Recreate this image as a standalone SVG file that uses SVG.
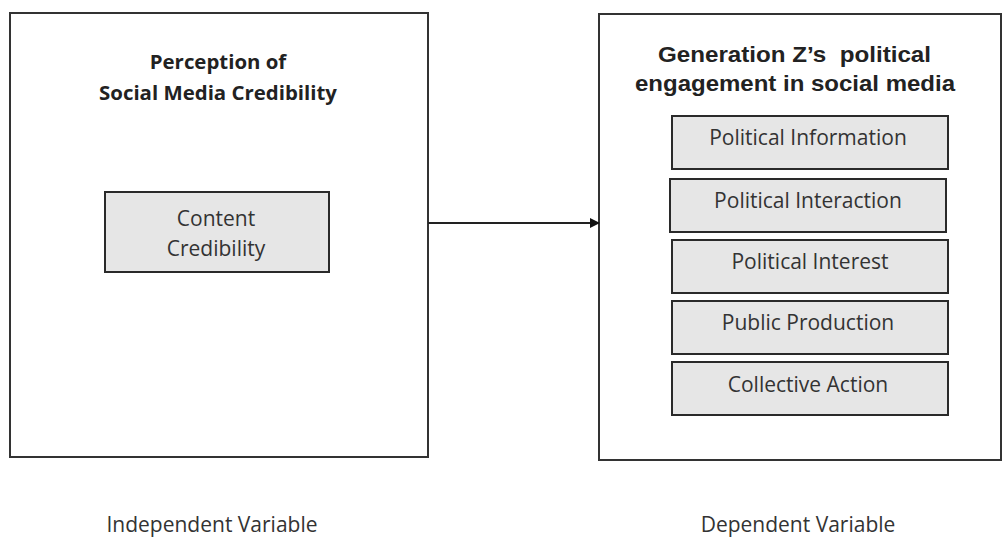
<svg xmlns="http://www.w3.org/2000/svg" width="1004" height="538" viewBox="0 0 1004 538">
<defs>
<style>
.outer{fill:#fff;stroke:#333;stroke-width:2}
.inner{fill:#e6e6e6;stroke:#2a2a2a;stroke-width:2}
.t{font-family:"Open Sans","Noto Sans",sans-serif;font-size:21px;fill:#333;text-anchor:middle}
.tb{font-family:"Open Sans","Noto Sans",sans-serif;font-size:20.4px;font-weight:bold;fill:#222;text-anchor:middle}
.ta{font-family:"Liberation Sans",Arial,sans-serif;font-size:22.5px;font-weight:bold;fill:#222;text-anchor:middle;white-space:pre}
.conn{stroke:#222;stroke-width:2;fill:none}
</style>
<marker id="arr" markerWidth="10" markerHeight="10" refX="9" refY="5" orient="auto" markerUnits="userSpaceOnUse">
<path d="M0,0 L10,5 L0,10 Z" fill="#111"/>
</marker>
</defs>
<rect width="1004" height="538" fill="#fff"/>
<g id="independent">
<rect class="outer" x="10" y="13" width="418" height="444"/>
<text class="tb" x="218" y="69">Perception of</text>
<text class="tb" x="218" y="100">Social Media Credibility</text>
</g>
<g id="content-credibility">
<rect class="inner" x="105" y="192" width="224" height="80"/>
<text class="t" x="216" y="226">Content</text>
<text class="t" x="216" y="256">Credibility</text>
</g>
<g id="dependent">
<rect class="outer" x="599" y="14" width="402" height="446"/>
<text class="ta" x="794.5" y="62" textLength="273" lengthAdjust="spacingAndGlyphs">Generation Z’s  political</text>
<text class="ta" x="795" y="91" textLength="320" lengthAdjust="spacingAndGlyphs">engagement in social media</text>
</g>
<g id="political-information">
<rect class="inner" x="672" y="116" width="276" height="53"/>
<text class="t" x="808" y="145">Political Information</text>
</g>
<g id="political-interaction">
<rect class="inner" x="670" y="179" width="276" height="53"/>
<text class="t" x="808" y="208">Political Interaction</text>
</g>
<g id="political-interest">
<rect class="inner" x="672" y="240" width="276" height="53"/>
<text class="t" x="810" y="269">Political Interest</text>
</g>
<g id="public-production">
<rect class="inner" x="672" y="301" width="276" height="53"/>
<text class="t" x="808" y="330">Public Production</text>
</g>
<g id="collective-action">
<rect class="inner" x="672" y="362" width="276" height="53"/>
<text class="t" x="808" y="392">Collective Action</text>
</g>
<g id="connectors">
<line class="conn" x1="428" y1="223" x2="599" y2="223" marker-end="url(#arr)"/>
</g>
<g id="labels">
<text class="t" x="212" y="532">Independent Variable</text>
<text class="t" x="798" y="532">Dependent Variable</text>
</g>
</svg>
